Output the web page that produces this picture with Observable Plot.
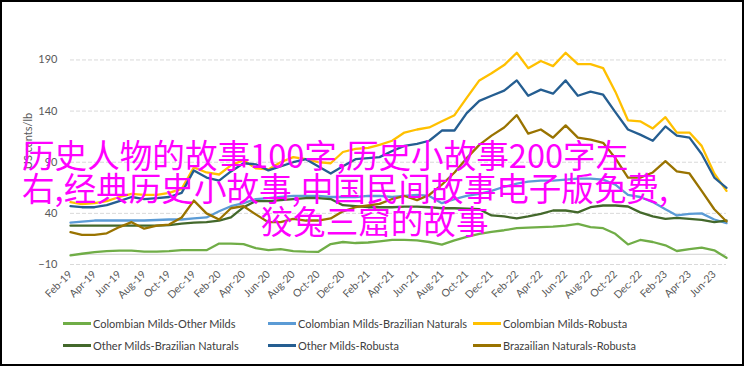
<!DOCTYPE html>
<html><head><meta charset="utf-8">
<script src="https://cdn.jsdelivr.net/npm/d3@7"></script>
<script src="https://cdn.jsdelivr.net/npm/@observablehq/plot@0.6"></script>
<style>
body{margin:0;background:#fff;}
#wrap{position:relative;width:744px;height:366px;overflow:hidden;font-family:Lato,"Noto Sans",sans-serif;background:#fff;}
#chart{position:absolute;left:0;top:0;}
#frame{position:absolute;left:0;top:0;width:744px;height:366px;box-sizing:border-box;border:2px solid #000;pointer-events:none;}
.item{position:absolute;font-size:11px;color:#404040;display:flex;align-items:center;white-space:nowrap;height:14px;}
.sw{width:28px;height:3px;margin-right:2px;}
.tl{position:absolute;color:#ff00ff;font-family:"Noto Sans CJK SC",sans-serif;font-size:32.6px;line-height:33px;white-space:nowrap;}
</style></head>
<body>
<div id="wrap">
  <div id="chart"></div>
  <div id="legend"></div>
  <div id="title"></div>
  <div id="frame"></div>
</div>
<script>
const seriesNames = [
  "Colombian Milds-Other Milds",
  "Colombian Milds-Brazilian Naturals",
  "Colombian Milds-Robusta",
  "Other Milds-Brazilian Naturals",
  "Other Milds-Robusta",
  "Brazailian Naturals-Robusta"
];
const seriesColors = ["#70AD47", "#5B9BD5", "#FFC000", "#43682B", "#255E91", "#997300"];

// monthly values, Feb-19 .. Jul-23 (US cents/lb)
const cmOtherMilds = [-1, 0.5, 2, 3, 3.5, 3.5, 2.5, 2.5, 3, 4, 4, 4, 10.5, 10.5, 10, 6, 4, 5, 3, 2.5, 2.3, 10, 12, 11, 11.5, 12.6, 14, 14, 13.6, 12, 9.4, 13.6, 17, 20, 22, 23.5, 25.5, 26, 26.5, 27, 28, 29.8, 26.6, 25.5, 20, 9.6, 14, 12, 8.8, 3.2, 5, 6.5, 3.9, -3.5];
const cmBrazNaturals = [31, 32, 33, 33, 33, 33, 33, 33.5, 34, 34, 35, 36, 42, 47, 50, 54, 55, 56, 57, 57, 57, 56, 56, 56, 57, 57, 56, 57, 58, 57, 50, 54, 57, 59, 62, 66, 69, 71, 72, 72, 73, 74, 74, 73, 68, 58, 56, 51, 44, 38, 39.5, 40, 34, 30.5];
const cmRobusta = [51, 49, 50, 52, 56, 59, 58, 58, 60, 64, 85, 80, 78, 87, 92, 84, 83, 90, 95, 93, 90, 89, 100, 103, 104, 107, 111, 119, 122, 124, 130, 136, 153, 170, 177, 185, 197, 182, 189, 184, 197, 186, 186, 182, 159, 131, 130, 123, 134, 119, 119, 106, 79, 62];
const omBrazNaturals = [28, 28, 28, 28, 28, 28, 28, 28, 28.5, 30, 31, 31.5, 33, 36, 46, 52, 52, 53, 54, 55, 55, 54, 48, 47, 46, 46, 46, 46.5, 46.5, 46, 45, 45, 44.5, 44, 38, 37, 35, 37, 39.5, 42.8, 42.8, 41, 46, 47.7, 47.7, 46.7, 41, 37, 34.7, 35.6, 34.7, 33.7, 31.4, 33];
const omRobusta = [47, 46, 46, 48, 52, 56, 54, 55, 56, 60, 82, 75, 72, 81, 89, 88, 82, 86, 90, 93, 86, 79, 86, 93, 94, 95, 101, 106, 108, 111, 121, 121, 138, 150, 155, 160, 170, 155, 161, 157, 170, 155, 159, 156, 139, 122, 117, 111, 125, 116, 114, 98, 75, 65];
const bnRobusta = [21.7, 19, 19, 20.5, 26.6, 31.4, 25, 28, 29, 36, 52.5, 40, 34, 45, 47, 39, 31.4, 31.4, 34.7, 33, 33, 35, 42, 46, 47.7, 49.3, 54, 57, 53, 58, 68, 80, 94, 107, 116, 124, 136, 118, 122, 114, 126, 114, 112, 109, 94, 75, 75, 80, 91, 81, 79, 62, 44, 32];

const yTicks = [-10, 40, 90, 140, 190];
const titleLines = ["历史人物的故事100字,历史小故事200字左", "右,经典历史小故事,中国民间故事电子版免费,", "狡兔三窟的故事"];
const yTitle = "US cents/lb";

const allSeries = [cmOtherMilds, cmBrazNaturals, cmRobusta, omBrazNaturals, omRobusta, bnRobusta];
const months = d3.utcMonth.range(new Date(Date.UTC(2019, 1, 1)), new Date(Date.UTC(2023, 7, 1)));
const xTicks = months.filter((d, i) => i % 2 === 0);
const data = allSeries.flatMap((vals, s) => vals.map((v, i) => ({name: seriesNames[s], date: months[i], value: v})));

const chart = Plot.plot({
  width: 744,
  height: 310,
  marginLeft: 70,
  marginRight: 18,
  marginTop: 39,
  marginBottom: 46,
  style: {fontFamily: "Lato, 'Noto Sans', sans-serif", background: "transparent"},
  x: {type: "utc", domain: [months[0], months[months.length - 1]]},
  y: {domain: [-10, 210]},
  color: {domain: seriesNames, range: seriesColors},
  marks: [
    Plot.gridY(yTicks, {stroke: "#d9d9d9", strokeOpacity: 1, strokeDasharray: "4,2"}),
    Plot.ruleY([0], {stroke: "#d0d0d0", strokeWidth: 1}),
    Plot.axisY({ticks: yTicks, tickSize: 0, tickPadding: 13, fontSize: 11, color: "#595959", label: null}),
    Plot.axisX({ticks: xTicks, tickSize: 0, tickPadding: 8, tickRotate: -45, fontSize: 10.5, color: "#595959", tickFormat: d3.utcFormat("%b-%y"), label: null}),
    Plot.line(data, {x: "date", y: "value", z: "name", stroke: "name", strokeWidth: 2.3, strokeLinejoin: "round"})
  ]
});
document.getElementById("chart").appendChild(chart);

d3.select(chart).append("text")
  .attr("transform", "translate(32,141) rotate(-90)")
  .attr("text-anchor", "middle")
  .attr("font-size", 11)
  .attr("fill", "#595959")
  .attr("font-family", "Lato, 'Noto Sans', sans-serif")
  .text(yTitle);

// legend
const legend = document.getElementById("legend");
const colX = [63, 268, 473];
const rowY = [316, 338];
seriesNames.forEach((name, i) => {
  const it = document.createElement("div");
  it.className = "item";
  it.style.left = colX[i % 3] + "px";
  it.style.top = rowY[Math.floor(i / 3)] + "px";
  const sw = document.createElement("span");
  sw.className = "sw";
  sw.style.background = seriesColors[i];
  const tx = document.createElement("span");
  tx.textContent = name;
  it.appendChild(sw);
  it.appendChild(tx);
  legend.appendChild(it);
});

// overlay title: first two lines start at the left, last line centred
const title = document.getElementById("title");
titleLines.forEach((t, i) => {
  const d = document.createElement("div");
  d.className = "tl";
  d.style.top = (137 + i * 33) + "px";
  d.textContent = t;
  title.appendChild(d);
  if (i < 2) {
    d.style.left = "22px";
  } else {
    const w = d.getBoundingClientRect().width;
    d.style.left = (374.5 - w / 2) + "px";
  }
});
</script>
</body></html>
